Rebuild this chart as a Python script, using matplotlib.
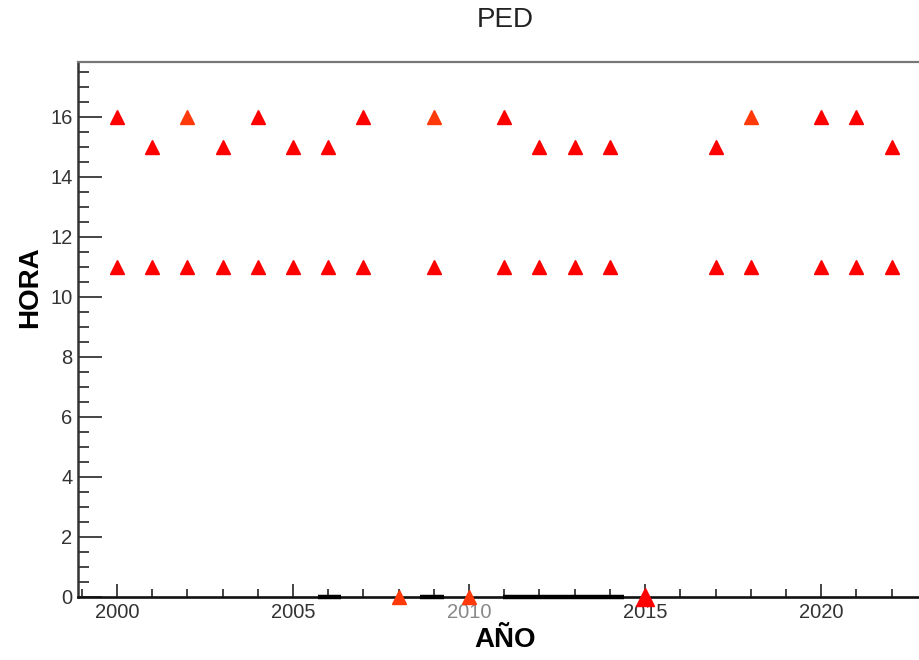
import matplotlib
matplotlib.use("Agg")
import matplotlib.pyplot as plt
from matplotlib.ticker import MultipleLocator

plt.rcParams["font.family"] = ["Liberation Sans", "DejaVu Sans"]

# red markers
red_years = [2000, 2000, 2001, 2001, 2002, 2003, 2003, 2004, 2004, 2005, 2005,
             2006, 2006, 2007, 2007, 2009, 2011, 2011, 2012, 2012, 2013, 2013,
             2014, 2014, 2017, 2017, 2018, 2020, 2020, 2021, 2021, 2022, 2022]
red_hora = [16, 11, 15, 11, 11, 15, 11, 16, 11, 15, 11,
            15, 11, 16, 11, 11, 16, 11, 15, 11, 15, 11,
            15, 11, 15, 11, 11, 16, 11, 16, 11, 15, 11]

# orange-ish markers
orange_years = [2002, 2009, 2018, 2008, 2010]
orange_hora = [16, 16, 16, 0, 0]

# bigger marker at zero
big_years = [2015]
big_hora = [0]

# black bars lying on the bottom axis
bar_start = [2005.7, 2008.6, 2010.97]
bar_end = [2006.35, 2009.3, 2014.4]
bar_hora = [0, 0, 0]

fig = plt.figure(figsize=(9.2, 6.6), dpi=100)
ax = fig.add_axes([78 / 920, 63 / 660, 854 / 920, 535 / 660])

ax.hlines(bar_hora, bar_start, bar_end, color="black", lw=3.2,
          clip_on=False, zorder=3)
ax.plot(red_years, red_hora, ls="none", marker="^", ms=10.5, color="#ff0000",
        clip_on=False, zorder=4)
ax.plot(orange_years, orange_hora, ls="none", marker="^", ms=10.5, color="#ff3a0a",
        clip_on=False, zorder=4)
ax.plot(big_years, big_hora, ls="none", marker="^", ms=13.5, color="#ff0000",
        clip_on=False, zorder=5)

ax.set_xlim(1998.89, 2023.15)
ax.set_ylim(0, 17.83)

ax.xaxis.set_major_locator(MultipleLocator(5))
ax.xaxis.set_minor_locator(MultipleLocator(1))
ax.yaxis.set_major_locator(MultipleLocator(2))
ax.yaxis.set_minor_locator(MultipleLocator(0.5))

ax.tick_params(axis="both", which="both", direction="in", colors="#444444",
               labelcolor="#333333", labelsize=14.5, width=1.4)
ax.tick_params(axis="x", which="major", length=9.5, pad=4)
ax.tick_params(axis="x", which="minor", length=5.5)
ax.tick_params(axis="y", which="major", length=17, pad=4)
ax.tick_params(axis="y", which="minor", length=8)
ax.tick_params(top=False, right=False)

ax.spines["right"].set_visible(False)
ax.spines["left"].set_linewidth(1.8)
ax.spines["left"].set_color("#333333")
ax.spines["bottom"].set_linewidth(1.9)
ax.spines["bottom"].set_color("#111111")
ax.spines["top"].set_linewidth(1.6)
ax.spines["top"].set_color("#777777")

for lab in ax.get_xticklabels():
    if lab.get_text() == "2010":
        lab.set_color("#888888")

ax.set_ylabel("HORA", fontsize=20, fontweight="bold", color="black")
ax.yaxis.set_label_coords(-0.056, 0.58)
ax.set_xlabel("AÑO", fontsize=20, fontweight="bold", color="black")
ax.xaxis.set_label_coords(0.5, -0.08)
ax.xaxis.label.set_va("center")
ax.yaxis.label.set_va("center")

fig.text(505 / 920, 1 - 20 / 660, "PED", fontsize=20, color="#222222",
         ha="center", va="center")

fig.savefig("out.png", dpi=100)
